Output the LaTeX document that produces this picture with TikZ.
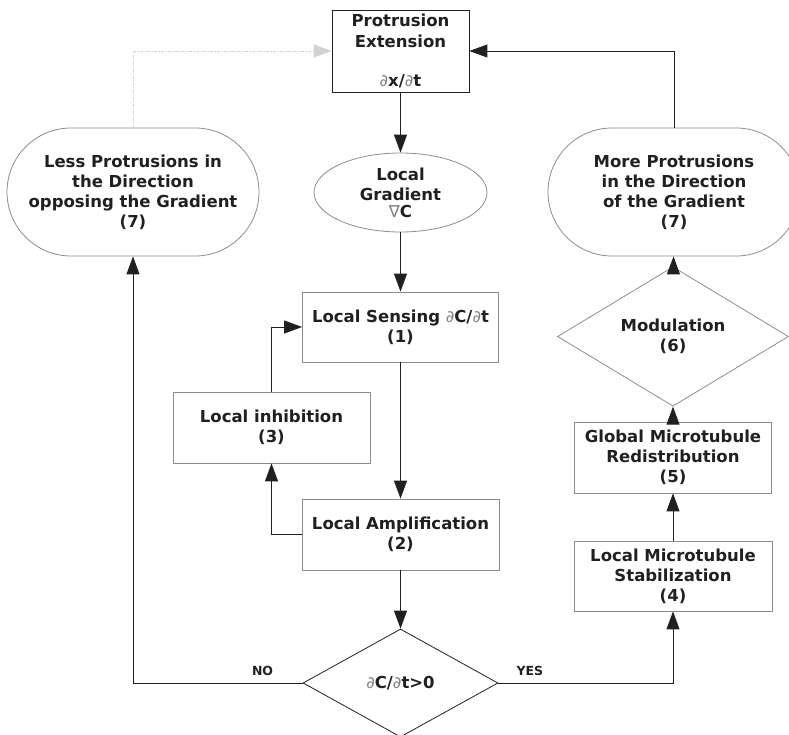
\documentclass[tikz,border=0pt]{standalone}
\usepackage{fontspec}
\setmainfont{DejaVu Sans}
\newfontfamily\symfam{DejaVu Sans}
\usepackage{xcolor}
\usepackage{tikz}
\usetikzlibrary{arrows.meta,shapes.geometric,shapes.misc}

\definecolor{ink}{HTML}{231F20}
\definecolor{edge}{HTML}{8C8C8C}
\newcommand{\pd}{{\mdseries\symfam\color{gray}∂}}
\newcommand{\nbl}{{\mdseries\symfam\color{gray}∇}}

\begin{document}
\begin{tikzpicture}[x=1pt,y=-1pt,
  font=\bfseries\fontsize{16.5}{20}\selectfont, text=ink,
  box/.style={draw=edge,line width=0.8pt,rectangle,align=center,inner sep=2pt},
  pill/.style={draw=edge,line width=0.8pt,rounded rectangle,align=center,inner sep=0pt,
    minimum width=252pt,minimum height=128pt},
  gate/.style={draw=edge,line width=0.8pt,diamond,align=center,inner sep=0pt},
  flow/.style={draw=ink,line width=0.9pt,-{Triangle[length=18pt,width=13pt]}},
  tag/.style={font=\bfseries\fontsize{12.5}{14}\selectfont}]

\useasboundingbox (0,0) rectangle (789,735);

% top
\node[box,draw=ink,minimum width=137pt,minimum height=82pt] (ext) at (400.5,51)
  {Protrusion\\Extension\\[19pt]\pd x/\pd t};

% protrusion results
\node[pill] (less) at (133,192) {Less Protrusions in\\the Direction\\opposing the Gradient\\(7)};
\node[pill] (more) at (674,192) {More Protrusions\\in the Direction\\of the Gradient\\(7)};

% middle column
\node[draw=edge,line width=0.8pt,ellipse,align=center,inner sep=0pt,
  minimum width=173pt,minimum height=79pt] (grad) at (400.5,192.5) {Local\\Gradient\\[-3pt]\nbl C};
\node[box,minimum width=196pt,minimum height=70pt] (sense) at (400.5,327) {Local Sensing \pd C/\pd t\\(1)};
\node[box,minimum width=197pt,minimum height=71pt] (inh) at (271.5,427.5) {Local inhibition\\(3)};
\node[box,minimum width=197pt,minimum height=71pt] (amp) at (400.5,534.5) {Local Amplification\\(2)};
\node[gate,draw=ink,minimum width=195pt,minimum height=108pt] (test) at (400.5,683) {\pd C/\pd t>0};

% right column
\node[box,minimum width=198pt,minimum height=70pt] (stab) at (673,576) {Local Microtubule\\Stabilization\\(4)};
\node[box,minimum width=197pt,minimum height=71pt] (redist) at (673,457.5) {Global Microtubule\\Redistribution\\(5)};
\node[gate,minimum width=231pt,minimum height=85pt] (mod) at (673,336.5) {Modulation\\(6)};

% connectors
\draw[flow] (ext) -- (grad);
\draw[flow] (grad) -- (sense);
\draw[flow,line width=1.3pt] (sense) -- (amp);
\draw[flow] (amp) -- (test);
\draw[flow] (amp.west) -| (inh.south);
\draw[flow] (inh.north) |- (sense.west);
\draw[flow] (test.west) -| node[tag,pos=0.118,above=4pt] (no) {NO} (less.south);
\draw[flow] (test.east) -| node[tag,pos=0.09,above=4pt] (yes) {YES} (stab.south);
\draw[flow] (stab) -- (redist);
\draw[flow] (redist) -- (mod);
\draw[flow,line width=1.3pt] (mod) -- (more);
\draw[flow] (more.north) |- (ext.east);
\draw[flow,draw=gray!35,dash pattern=on 3pt off 1.5pt on 1pt off 1.5pt] (less.north) |- (ext.west);

\end{tikzpicture}
\end{document}
